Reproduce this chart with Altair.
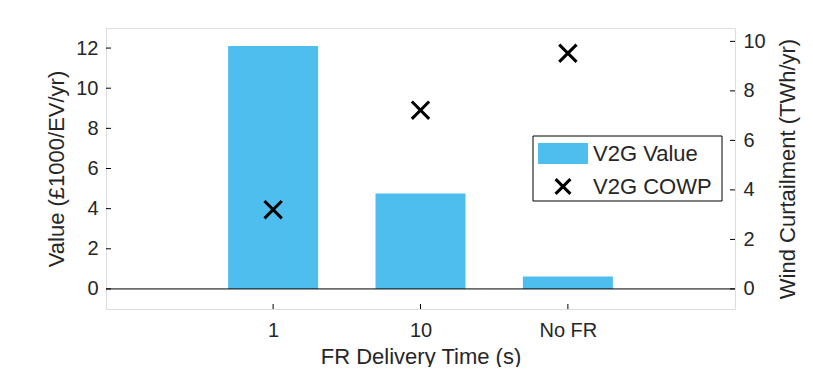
import altair as alt
import pandas as pd

# ---- data ----
categories = ["1", "10", "No FR"]
v2g_value = [12.1, 4.75, 0.62]        # £1000/EV/yr (left axis)
v2g_cowp = [3.2, 7.22, 9.52]          # TWh/yr (right axis)
left_ticks = [0, 2, 4, 6, 8, 10, 12]
right_ticks = [0, 2, 4, 6, 8, 10]

positions = list(range(1, len(categories) + 1))

W, H = 629, 281
BLUE = "#4DBEEE"
TXT = "#262626"
FONT = "Liberation Sans"
TICK_FS = 20
TITLE_FS = 22
LEG_FS = 22

df = pd.DataFrame({"pos": positions, "cat": categories,
                   "value": v2g_value, "curtail": v2g_cowp})

label_expr = " : ".join(
    [f"datum.value == {p} ? '{c}'" for p, c in zip(positions[:-1], categories[:-1])]
) + f" : '{categories[-1]}'"

common = dict(ticks=False, domain=False, grid=False, labelFontSize=TICK_FS,
              titleFontSize=TITLE_FS, labelFont=FONT, titleFont=FONT,
              labelColor=TXT, titleColor=TXT, titleFontWeight="normal")

xenc = alt.X("pos:Q",
             scale=alt.Scale(domain=[-0.1, 4.1], nice=False, zero=False),
             axis=alt.Axis(values=positions, labelExpr=label_expr,
                           title="FR Delivery Time (s)", labelPadding=11,
                           titlePadding=6, **common))

lscale = alt.Scale(domain=[-1, 13], nice=False, zero=False)
rscale = alt.Scale(domain=[-0.811, 10.54], nice=False, zero=False)

lyenc = alt.Y("value:Q", scale=lscale,
              axis=alt.Axis(values=left_ticks, orient="left", labelPadding=8,
                            title="Value (£1000/EV/yr)", titlePadding=7,
                            **common))
ryenc = alt.Y("curtail:Q", scale=rscale,
              axis=alt.Axis(values=right_ticks, orient="right", labelPadding=8,
                            title="Wind Curtailment (TWh/yr)", titlePadding=12,
                            titleAngle=270, titleBaseline="top", **common))

base = alt.Chart(df)

bars = base.mark_bar(size=90, color=BLUE).encode(x=xenc, y=lyenc)

zero_line = alt.Chart(pd.DataFrame({"value": [0]})).mark_rule(
    color="black", strokeWidth=1).encode(y=lyenc, x=alt.value(0), x2=alt.value(W))

lt = alt.Chart(pd.DataFrame({"value": left_ticks})).mark_rule(
    color="black", strokeWidth=1).encode(y=lyenc, x=alt.value(0), x2=alt.value(5))

xt = alt.Chart(pd.DataFrame({"pos": positions})).mark_rule(
    color="black", strokeWidth=1).encode(x=xenc, y=alt.value(H), y2=alt.value(H - 5))

left = alt.layer(bars, zero_line, lt, xt)

XPATH = "M-1,-1L1,1M1,-1L-1,1"
marks = base.mark_point(shape=XPATH, filled=False, color="black",
                        strokeWidth=3, size=300, opacity=1).encode(x=xenc, y=ryenc)

rt = alt.Chart(pd.DataFrame({"curtail": right_ticks})).mark_rule(
    color="black", strokeWidth=1).encode(y=ryenc, x=alt.value(W - 5), x2=alt.value(W))

one = alt.Data(values=[{"a": 1}])
leg_box = alt.Chart(one).mark_rect(fill="white", stroke="black", strokeWidth=1).encode(
    x=alt.value(427), x2=alt.value(616), y=alt.value(108), y2=alt.value(173))
leg_patch = alt.Chart(one).mark_rect(fill=BLUE).encode(
    x=alt.value(432), x2=alt.value(482), y=alt.value(115), y2=alt.value(136))
leg_x = alt.Chart(one).mark_point(shape=XPATH, filled=False, color="black",
                                  strokeWidth=3, size=220, opacity=1).encode(
    x=alt.value(457), y=alt.value(158.5))
leg_t1 = alt.Chart(one).mark_text(align="left", baseline="middle", fontSize=LEG_FS,
                                  font=FONT, color=TXT, text="V2G Value").encode(
    x=alt.value(487), y=alt.value(126))
leg_t2 = alt.Chart(one).mark_text(align="left", baseline="middle", fontSize=LEG_FS,
                                  font=FONT, color=TXT, text="V2G COWP").encode(
    x=alt.value(487), y=alt.value(158.5))

right = alt.layer(marks, rt, leg_box, leg_patch, leg_x, leg_t1, leg_t2)

chart = alt.layer(left, right).resolve_scale(y="independent").properties(
    width=W, height=H,
    autosize=alt.AutoSizeParams(type="none"),
    padding={"left": 98, "top": 20, "right": 70, "bottom": 58},
).configure_view(stroke="black", strokeWidth=1).configure(background="white")

chart.save("out.html", embed_options={"renderer": "svg", "actions": False})
